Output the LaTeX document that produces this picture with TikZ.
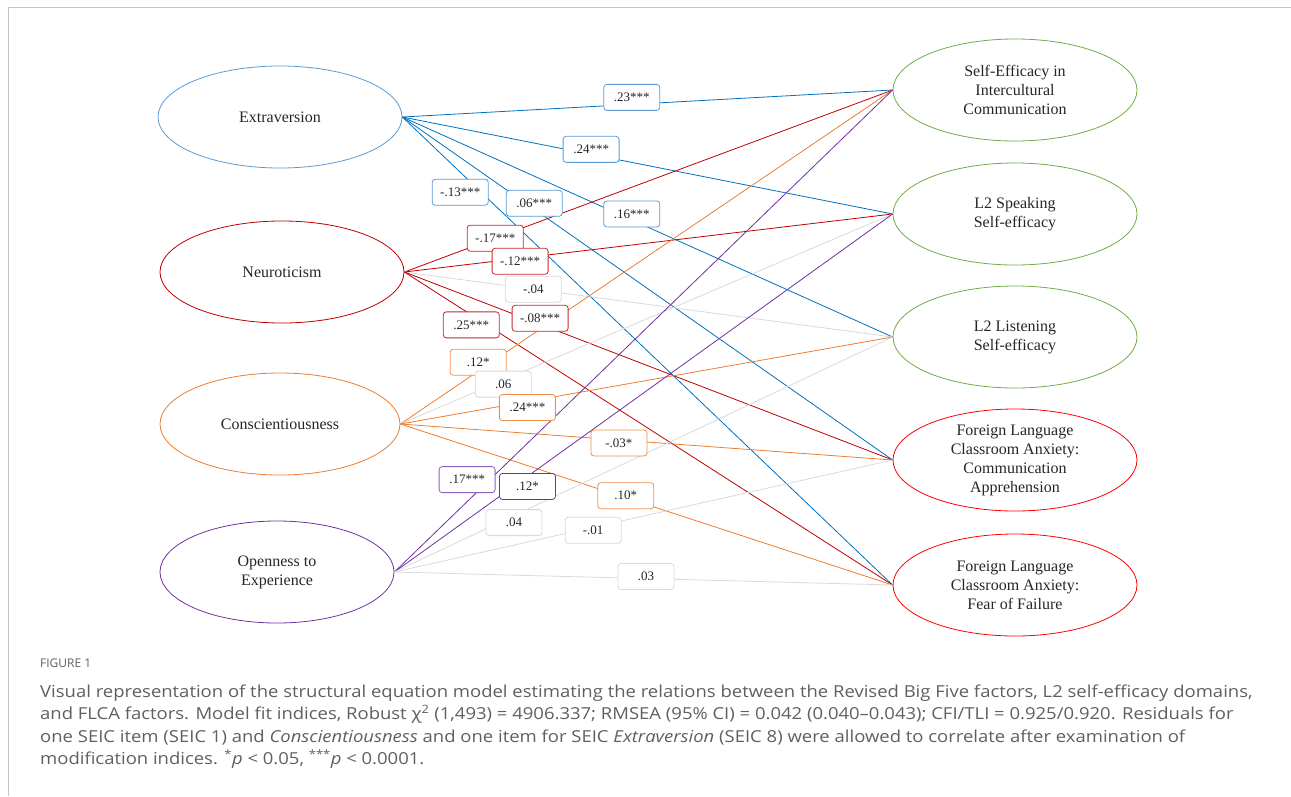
\documentclass[tikz,border=0pt]{standalone}
\usepackage{fontspec}
\setmainfont{Liberation Serif}
\newfontfamily\capfont[Ligatures=TeX]{Open Sans}
\usepackage{xcolor}
\usepackage{tikz}
\usetikzlibrary{shapes.geometric}
\definecolor{eblue}{HTML}{0070C0}
\definecolor{lblue}{HTML}{5B9BD5}
\definecolor{ered}{HTML}{C00000}
\definecolor{lred}{HTML}{C82828}
\definecolor{eorange}{HTML}{ED7D31}
\definecolor{lorange}{HTML}{F0904A}
\definecolor{epurple}{HTML}{7030A0}
\definecolor{lpurple}{HTML}{9060C0}
\definecolor{egray}{HTML}{D9D9D9}
\definecolor{egreen}{HTML}{70AD47}
\definecolor{fred}{HTML}{FF0000}
\definecolor{inktext}{HTML}{262626}
\definecolor{captext}{HTML}{5F5F5F}
\definecolor{framegray}{HTML}{C4C4C4}

\begin{document}
\begin{tikzpicture}[
  x=1pt, y=-1pt,
  factor/.style={ellipse, draw, line width=0.8pt, inner sep=0pt,
                 minimum width=244pt, minimum height=102pt, align=center,
                 text=inktext, font=\fontsize{16}{19}\selectfont},
  coef/.style={draw, fill=white, rounded corners=3pt, line width=0.8pt,
               minimum width=56pt, minimum height=26pt, inner sep=2pt,
               text=inktext, font=\fontsize{13}{15}\selectfont},
  effect/.style={line width=0.8pt},
]
\useasboundingbox (0,0) rectangle (1291,796);

% =================================================================
% FRAME
% =================================================================
\draw[framegray, line width=1pt] (1291,7) -- (8,7) -- (8,796);

% =================================================================
% LEFT: Big Five factors
% =================================================================
\node[factor, draw=lblue] (extra) at (280,117) {Extraversion};
\node[factor, draw=ered] (neuro) at (282,272) {Neuroticism};
\node[factor, draw=eorange, minimum width=240pt] (consc) at (280,424)
  {Conscientiousness};
\node[factor, draw=epurple, minimum width=234pt] (open) at (277,572)
  {Openness to\\Experience};

% =================================================================
% RIGHT: self-efficacy and FLCA factors
% =================================================================
\node[factor, draw=egreen] (seic) at (1015,90)
  {Self-Efficacy in\\Intercultural\\Communication};
\node[factor, draw=egreen] (speak) at (1015,214) {L2 Speaking\\Self-efficacy};
\node[factor, draw=egreen] (listen) at (1015,337) {L2 Listening\\Self-efficacy};
\node[factor, draw=fred] (fcomm) at (1015,460)
  {Foreign Language\\Classroom Anxiety:\\Communication\\Apprehension};
\node[factor, draw=fred] (ffail) at (1015,585)
  {Foreign Language\\Classroom Anxiety:\\Fear of Failure};

% =================================================================
% PATHS
% =================================================================
\draw[effect, eblue] (extra.east) -- (seic.west);
\draw[effect, eblue] (extra.east) -- (speak.west);
\draw[effect, eblue] (extra.east) -- (listen.west);
\draw[effect, eblue] (extra.east) -- (fcomm.west);
\draw[effect, eblue] (extra.east) -- (ffail.west);

\draw[effect, ered] (neuro.east) -- (seic.west);
\draw[effect, ered] (neuro.east) -- (speak.west);
\draw[effect, egray] (neuro.east) -- (listen.west);
\draw[effect, ered] (neuro.east) -- (fcomm.west);
\draw[effect, ered] (neuro.east) -- (ffail.west);

\draw[effect, eorange] (consc.east) -- (seic.west);
\draw[effect, egray] (consc.east) -- (speak.west);
\draw[effect, eorange] (consc.east) -- (listen.west);
\draw[effect, eorange] (consc.east) -- (fcomm.west);
\draw[effect, eorange] (consc.east) -- (ffail.west);

\draw[effect, epurple] (open.east) -- (seic.west);
\draw[effect, epurple] (open.east) -- (speak.west);
\draw[effect, egray] (open.east) -- (listen.west);
\draw[effect, egray] (open.east) -- (fcomm.west);
\draw[effect, egray] (open.east) -- (ffail.west);

% =================================================================
% COEFFICIENTS
% =================================================================
\path (extra.east) -- (seic.west)
  node[coef, draw=lblue, pos=0.468, yshift=7pt] (ex-seic) {.23***};
\path (extra.east) -- (speak.west)
  node[coef, draw=lblue, pos=0.385, yshift=5pt] (ex-speak) {.24***};
\path (extra.east) -- (listen.west)
  node[coef, draw=lblue, pos=0.468, yshift=6pt] (ex-listen) {.16***};
\path (extra.east) -- (fcomm.west)
  node[coef, draw=lblue, pos=0.269, yshift=6pt] (ex-fcomm) {.06***};
\path (extra.east) -- (ffail.west)
  node[coef, draw=lblue, pos=0.118, yshift=-20pt] (ex-ffail) {-.13***};

\path (neuro.east) -- (seic.west)
  node[coef, draw=lred, pos=0.186] (ne-seic) {-.17***};
\path (neuro.east) -- (speak.west)
  node[coef, draw=lred, pos=0.237, yshift=-3pt] (ne-speak) {-.12***};
\path (neuro.east) -- (listen.west)
  node[coef, draw=egray, pos=0.264] (ne-listen) {-.04};
\path (neuro.east) -- (fcomm.west)
  node[coef, draw=lred, pos=0.278, yshift=6pt] (ne-fcomm) {-.08***};
\path (neuro.east) -- (ffail.west)
  node[coef, draw=lred, pos=0.137, yshift=-10pt] (ne-ffail) {.25***};

\path (consc.east) -- (seic.west)
  node[coef, draw=lorange, pos=0.158, yshift=9pt] (co-seic) {.12*};
\path (consc.east) -- (speak.west)
  node[coef, draw=egray, pos=0.209, yshift=-4pt] (co-speak) {.06};
\path (consc.east) -- (listen.west)
  node[coef, draw=lorange, pos=0.258, yshift=-6pt] (co-listen) {.24***};
\path (consc.east) -- (fcomm.west)
  node[coef, draw=lorange, pos=0.444, yshift=-3pt] (co-fcomm) {-.03*};
\path (consc.east) -- (ffail.west)
  node[coef, draw=lorange, pos=0.458, yshift=2pt] (co-ffail) {.10*};

\path (open.east) -- (seic.west)
  node[coef, draw=lpurple, pos=0.146, yshift=22pt] (op-seic) {.17***};
\path (open.east) -- (speak.west)
  node[coef, draw=epurple, pos=0.267, yshift=-10pt] (op-speak) {.12*};
\path (open.east) -- (listen.west)
  node[coef, draw=egray, pos=0.240, yshift=-7pt] (op-listen) {.04};
\path (open.east) -- (fcomm.west)
  node[coef, draw=egray, pos=0.399, yshift=-3pt] (op-fcomm) {-.01};
\path (open.east) -- (ffail.west)
  node[coef, draw=egray, pos=0.505, yshift=2pt] (op-ffail) {.03};

% =================================================================
% CAPTION
% =================================================================
\node[anchor=west, inner sep=0pt, text=captext,
      font=\capfont\fontsize{12}{14}\selectfont] (figlabel) at (40,663)
  {FIGURE 1};
\node[anchor=north west, inner sep=0pt, text=captext,
      font=\capfont\fontsize{16.5}{22.6}\selectfont] (caption) at (40,681)
  {\scalebox{1.12}[1]{\begin{tabular}{@{}l@{}}
   Visual representation of the structural equation model estimating the
   relations between the Revised Big Five factors, L2 self-efficacy domains,\\
   and FLCA factors. Model fit indices, Robust χ\textsuperscript{2} (1,493)
   = 4906.337; RMSEA (95\% CI) = 0.042 (0.040–0.043); CFI/TLI =
   0.925/0.920. Residuals for\\
   one SEIC item (SEIC 1) and \textit{Conscientiousness} and one item for
   SEIC \textit{Extraversion} (SEIC 8) were allowed to correlate after
   examination of\\
   modification indices. \textsuperscript{*}\textit{p} < 0.05,
   \textsuperscript{***}\textit{p} < 0.0001.
  \end{tabular}}};

\end{tikzpicture}
\end{document}
